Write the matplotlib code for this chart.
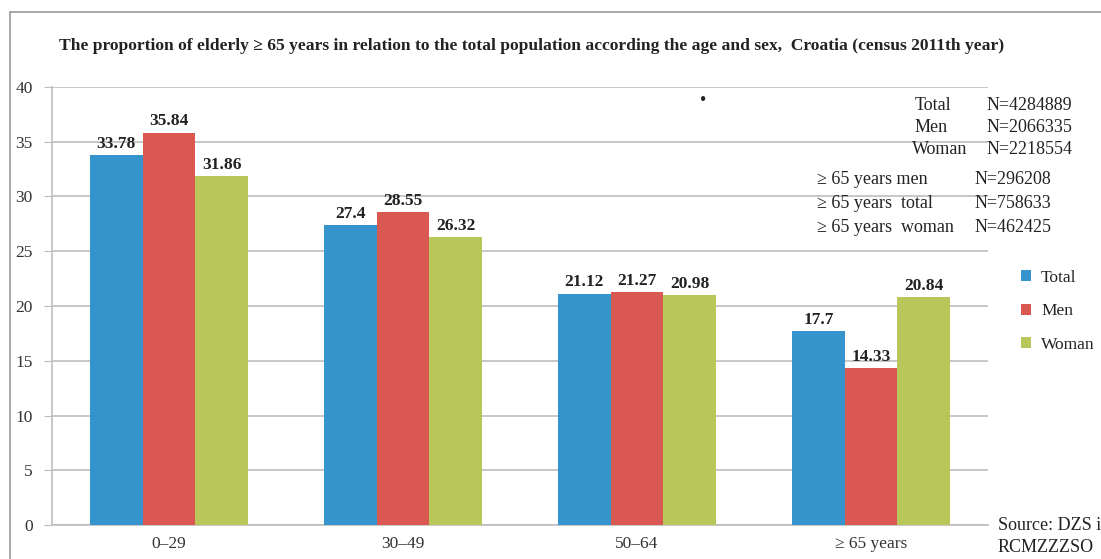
import matplotlib
matplotlib.use('Agg')
import matplotlib.pyplot as plt
from matplotlib.patches import Rectangle
import numpy as np

plt.rcParams['font.family'] = ['Liberation Serif', 'DejaVu Serif']

# data
categories = ['0–29', '30–49', '50–64', '≥ 65 years']
total = [33.78, 27.4, 21.12, 17.7]
men = [35.84, 28.55, 21.27, 14.33]
woman = [31.86, 26.32, 20.98, 20.84]
series_names = ['Total', 'Men', 'Woman']
colors = ['#3594cc', '#d95852', '#b8c65a']

info_top = [('Total', 'N=4284889'), ('Men', 'N=2066335'), ('Woman', 'N=2218554')]
info_65 = [('≥ 65 years men', 'N=296208'), ('≥ 65 years  total', 'N=758633'),
           ('≥ 65 years  woman', 'N=462425')]

W, H = 1101, 559
fig = plt.figure(figsize=(W / 100, H / 100), dpi=100)
ax = fig.add_axes([52 / W, 1 - 525 / H, (988 - 52) / W, (525 - 87) / H])

# outer frame
fig.patches.append(Rectangle((10 / W, -0.1), 1.2, 1 - 12 / H + 0.1,
                             transform=fig.transFigure, fill=False,
                             edgecolor='#9a9a9a', linewidth=1.2))

x = np.arange(len(categories))
bw = 0.225
for i, (vals, name, c) in enumerate(zip([total, men, woman], series_names, colors)):
    bars = ax.bar(x + (i - 1) * bw, vals, bw, color=c, label=name, zorder=3)
    for b, v in zip(bars, vals):
        ax.text(b.get_x() + b.get_width() / 2, v + 0.3, f'{v:g}', ha='center',
                va='bottom', fontsize=12.5, fontweight='bold', color='#222222')

ax.set_xlim(-0.5, 3.5)
ax.set_ylim(0, 40)
ax.set_yticks(range(0, 41, 5))
ax.set_xticks(x)
ax.set_xticklabels(categories)
ax.yaxis.grid(True, color='#bdbdbd', linewidth=1.2, zorder=0)
ax.tick_params(axis='y', length=6, color='#bdbdbd', labelsize=12.5, labelcolor='#333333', pad=8)
ax.tick_params(axis='x', length=0, labelsize=12.5, labelcolor='#333333', pad=8)
for s in ['top', 'right']:
    ax.spines[s].set_visible(False)
for s in ['left', 'bottom']:
    ax.spines[s].set_color('#bdbdbd')
    ax.spines[s].set_linewidth(1.2)

fig.text(532 / W, 1 - 46 / H,
         'The proportion of elderly ≥ 65 years in relation to the total population according the age and sex,  Croatia (census 2011th year)',
         ha='center', va='center', fontsize=12.6, fontweight='bold', color='#222222')
fig.text(703 / W, 1 - 100 / H, '•', ha='center', va='center', fontsize=13, color='#222222')

for (lab, n), xx, yy in zip(info_top, [915, 915, 912], [105, 127, 150]):
    fig.text(xx / W, 1 - yy / H, lab, ha='left', va='center', fontsize=13, color='#222222')
    fig.text(987 / W, 1 - yy / H, n, ha='left', va='center', fontsize=13, color='#222222')
for (lab, n), yy in zip(info_65, [180, 204, 227]):
    fig.text(817 / W, 1 - yy / H, lab, ha='left', va='center', fontsize=13, color='#222222')
    fig.text(975 / W, 1 - yy / H, n, ha='left', va='center', fontsize=13, color='#222222')

leg = ax.legend(loc='upper left', bbox_to_anchor=(1021 / W, 1 - 270 / H),
                bbox_transform=fig.transFigure, frameon=False, fontsize=12.5,
                borderpad=0, borderaxespad=0,
                handlelength=0.6, handleheight=0.6, handletextpad=0.55, labelspacing=1.0)
for t in leg.get_texts():
    t.set_color('#222222')

fig.text(998 / W, 1 - 525 / H, 'Source: DZS i', ha='left', va='center', fontsize=13, color='#222222')
fig.text(998 / W, 1 - 547 / H, 'RCMZZZSO', ha='left', va='center', fontsize=13, color='#222222')

fig.savefig('out.png', dpi=100)
